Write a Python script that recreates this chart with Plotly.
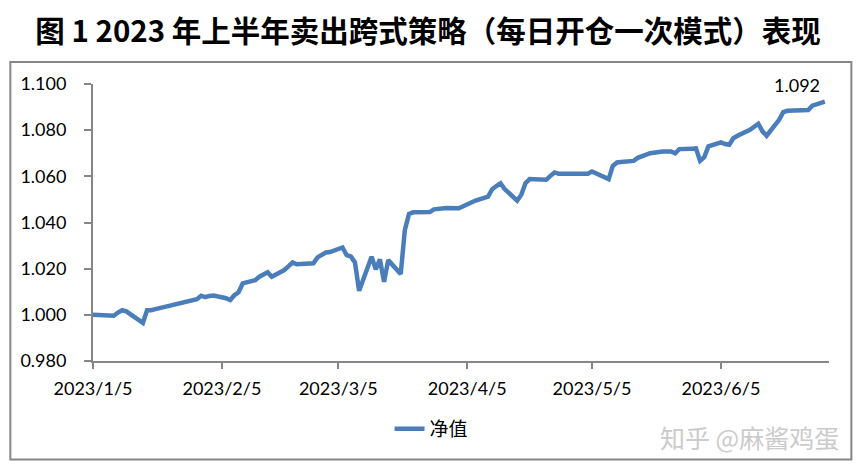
import plotly.graph_objects as go

# 每日净值
dates = [
    "2023-01-05", "2023-01-06", "2023-01-09", "2023-01-10", "2023-01-11", "2023-01-12",
    "2023-01-13", "2023-01-16", "2023-01-17", "2023-01-18", "2023-01-19", "2023-01-20",
    "2023-01-30", "2023-01-31", "2023-02-01", "2023-02-02", "2023-02-03", "2023-02-06",
    "2023-02-07", "2023-02-08", "2023-02-09", "2023-02-10", "2023-02-13", "2023-02-14",
    "2023-02-15", "2023-02-16", "2023-02-17", "2023-02-20", "2023-02-21", "2023-02-22",
    "2023-02-23", "2023-02-24", "2023-02-27", "2023-02-28", "2023-03-01", "2023-03-02",
    "2023-03-03", "2023-03-06", "2023-03-07", "2023-03-08", "2023-03-09", "2023-03-10",
    "2023-03-13", "2023-03-14", "2023-03-15", "2023-03-16", "2023-03-17", "2023-03-20",
    "2023-03-21", "2023-03-22", "2023-03-23", "2023-03-24", "2023-03-27", "2023-03-28",
    "2023-03-29", "2023-03-30", "2023-03-31", "2023-04-03", "2023-04-04", "2023-04-06",
    "2023-04-07", "2023-04-10", "2023-04-11", "2023-04-12", "2023-04-13", "2023-04-14",
    "2023-04-17", "2023-04-18", "2023-04-19", "2023-04-20", "2023-04-21", "2023-04-24",
    "2023-04-25", "2023-04-26", "2023-04-27", "2023-04-28", "2023-05-04", "2023-05-05",
    "2023-05-08", "2023-05-09", "2023-05-10", "2023-05-11", "2023-05-12", "2023-05-15",
    "2023-05-16", "2023-05-17", "2023-05-18", "2023-05-19", "2023-05-22", "2023-05-23",
    "2023-05-24", "2023-05-25", "2023-05-26", "2023-05-29", "2023-05-30", "2023-05-31",
    "2023-06-01", "2023-06-02", "2023-06-05", "2023-06-06", "2023-06-07", "2023-06-08",
    "2023-06-09", "2023-06-12", "2023-06-13", "2023-06-14", "2023-06-15", "2023-06-16",
    "2023-06-19", "2023-06-20", "2023-06-21", "2023-06-26", "2023-06-27", "2023-06-28",
    "2023-06-29", "2023-06-30",
]
nav = [
    1.0000, 1.0000, 0.9997, 0.9996, 1.0010, 1.0020,
    1.0015, 0.9980, 0.9965, 1.0020, 1.0020, 1.0025,
    1.0068, 1.0083, 1.0077, 1.0082, 1.0084, 1.0072,
    1.0064, 1.0085, 1.0098, 1.0136, 1.0150, 1.0165,
    1.0172, 1.0184, 1.0165, 1.0194, 1.0210, 1.0227,
    1.0219, 1.0221, 1.0223, 1.0249, 1.0262, 1.0270,
    1.0272, 1.0292, 1.0259, 1.0253, 1.0227, 1.0104,
    1.0252, 1.0197, 1.0240, 1.0143, 1.0237, 1.0177,
    1.0368, 1.0437, 1.0444, 1.0444, 1.0445, 1.0457,
    1.0460, 1.0463, 1.0463, 1.0462, 1.0470, 1.0486,
    1.0495, 1.0512, 1.0544, 1.0558, 1.0570, 1.0545,
    1.0495, 1.0520, 1.0570, 1.0588, 1.0587, 1.0585,
    1.0602, 1.0617, 1.0611, 1.0611, 1.0611, 1.0621,
    1.0600, 1.0588, 1.0645, 1.0660, 1.0662, 1.0667,
    1.0680, 1.0688, 1.0693, 1.0700, 1.0708, 1.0708,
    1.0708, 1.0700, 1.0718, 1.0720, 1.0721, 1.0667,
    1.0683, 1.0730, 1.0747, 1.0740, 1.0737, 1.0765,
    1.0776, 1.0802, 1.0815, 1.0828, 1.0795, 1.0776,
    1.0845, 1.0878, 1.0884, 1.0887, 1.0906, 1.0913,
    1.0916, 1.0924,
]

x_tick_dates = ["2023-01-05", "2023-02-05", "2023-03-05", "2023-04-05", "2023-05-05", "2023-06-05"]
x_tick_labels = ["2023/1/5", "2023/2/5", "2023/3/5", "2023/4/5", "2023/5/5", "2023/6/5"]
y_ticks = [0.98, 1.00, 1.02, 1.04, 1.06, 1.08, 1.10]

LINE_COLOR = "#4a7ebb"
AXIS_COLOR = "#868686"
TICK_FONT = dict(family="Lato, Liberation Sans, sans-serif", size=18, color="#000000")

fig = go.Figure()
fig.add_trace(
    go.Scatter(
        x=dates,
        y=nav,
        mode="lines",
        name="净值",
        line=dict(color=LINE_COLOR, width=4.5),
    )
)

# label for the final value
fig.add_annotation(
    x=dates[-1],
    y=nav[-1],
    text=f"{nav[-1]:.3f}",
    showarrow=False,
    xanchor="right",
    yanchor="bottom",
    xshift=-3,
    yshift=4,
    font=TICK_FONT,
)

# watermark
fig.add_annotation(
    x=1.016, y=-0.275, xref="paper", yref="paper",
    text="知乎 @麻酱鸡蛋",
    showarrow=False,
    xanchor="right", yanchor="middle",
    font=dict(family="Noto Sans CJK SC", size=25, color="#cbcbcb"),
)

# outer frame
fig.add_shape(
    type="rect", xref="paper", yref="paper",
    x0=-0.1123, x1=1.0304, y0=-0.3556, y1=1.0796,
    line=dict(color=AXIS_COLOR, width=2),
    fillcolor="rgba(0,0,0,0)",
    layer="below",
)

# the page body adds ~8px offset, so margins are shifted by that amount
fig.update_layout(
    width=863,
    height=474,
    margin=dict(l=85, r=42, t=76, b=121, autoexpand=False),
    paper_bgcolor="white",
    plot_bgcolor="white",
    title=dict(
        text="<b>图 1 2023 年上半年卖出跨式策略（每日开仓一次模式）表现</b>",
        x=420 / 863, xanchor="center",
        y=1 - 24 / 474, yanchor="middle",
        font=dict(family="Noto Sans CJK SC", size=29.5, color="#000000"),
    ),
    showlegend=True,
    legend=dict(
        orientation="h",
        x=0.46, xanchor="center",
        y=-0.245, yanchor="middle",
        font=dict(family="Noto Sans CJK SC", size=19, color="#000000"),
        bgcolor="rgba(0,0,0,0)",
    ),
)

fig.update_xaxes(
    type="date",
    range=["2023-01-05", "2023-07-01"],
    tickvals=x_tick_dates,
    ticktext=x_tick_labels,
    ticks="outside",
    ticklen=6,
    tickcolor=AXIS_COLOR,
    tickwidth=1.5,
    showline=True,
    linecolor=AXIS_COLOR,
    linewidth=2,
    showgrid=False,
    zeroline=False,
    tickfont=TICK_FONT,
    ticklabelstandoff=4,
    automargin=False,
)
fig.update_yaxes(
    range=[0.98, 1.10],
    tickvals=y_ticks,
    tickformat=".3f",
    ticks="outside",
    ticklen=7,
    tickcolor=AXIS_COLOR,
    tickwidth=1.5,
    showline=True,
    linecolor=AXIS_COLOR,
    linewidth=2,
    showgrid=False,
    zeroline=False,
    tickfont=TICK_FONT,
    ticklabelstandoff=14,
    automargin=False,
)

fig.write_html("out.html")
